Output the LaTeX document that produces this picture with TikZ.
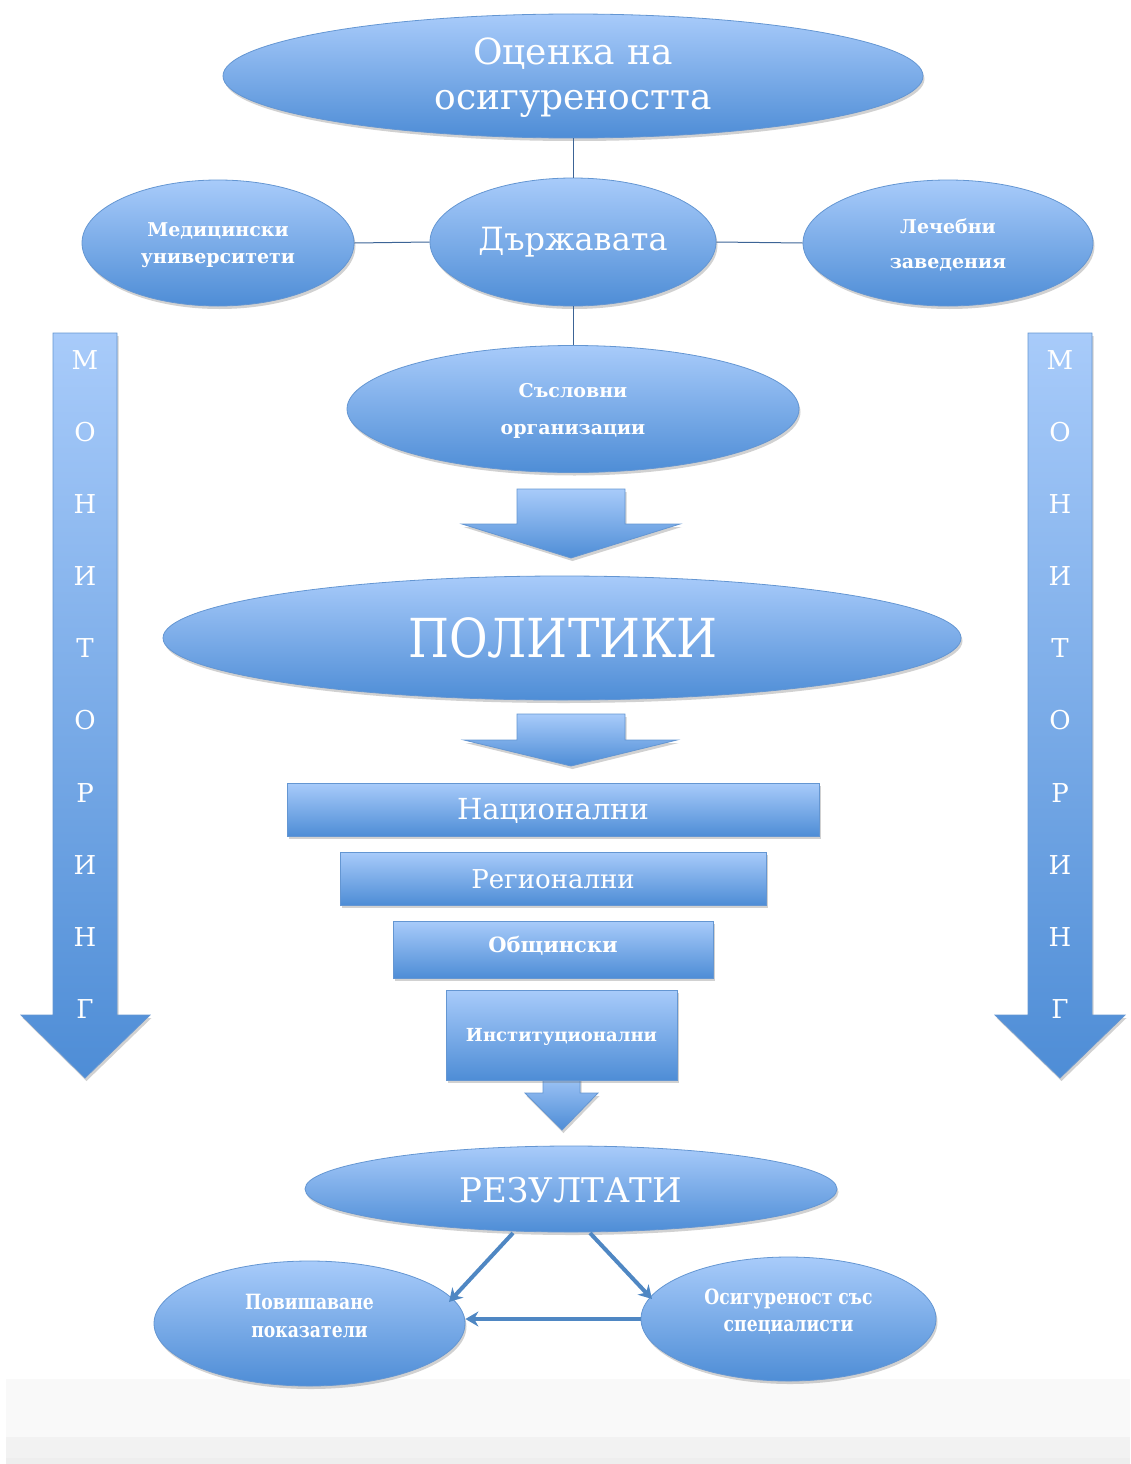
\documentclass[tikz,border=0pt]{standalone}
\usepackage{fontspec}
\setmainfont{DejaVu Serif}
\usetikzlibrary{shapes.geometric,shadows,arrows.meta}
\definecolor{lite}{RGB}{168,203,250}
\definecolor{dark}{RGB}{78,141,214}
\definecolor{edge}{RGB}{100,150,210}
\definecolor{conn}{RGB}{60,100,150}
\definecolor{thick}{RGB}{79,135,195}
\tikzset{
  fillgrad/.style={top color=lite, bottom color=dark, draw=edge, line width=0.8pt,
    drop shadow={shadow xshift=1.5pt, shadow yshift=-3pt, opacity=0.3, fill=black!60}},
  ell/.style={ellipse, fillgrad, inner sep=0pt},
  box/.style={rectangle, fillgrad, inner sep=0pt},
  txt/.style={text=white, align=center, inner sep=0pt},
  conline/.style={draw=conn, line width=1pt},
  resarrow/.style={draw=thick, line width=4pt, -{Stealth[length=13pt,width=15pt]}},
}
\newcommand{\fsz}[2]{\fontsize{#1}{#2}\selectfont}
\begin{document}
\begin{tikzpicture}[x=1pt,y=-1pt]
\useasboundingbox (0,0) rectangle (1130,1464);
% bottom band
\fill[black!2.5] (6,1379) rectangle (1130,1437);
\fill[black!5] (6,1437) rectangle (1130,1458);
\fill[black!6.5] (6,1458) rectangle (1130,1464);

% monitoring arrows
\path[fillgrad] (53,333) -- (117,333) -- (117,1015) -- (150,1015) -- (85,1078) -- (21,1015) -- (53,1015) -- cycle;
\path[fillgrad] (1028,333) -- (1092,333) -- (1092,1015) -- (1125,1015) -- (1060,1078) -- (995,1015) -- (1028,1015) -- cycle;
\foreach \ch [count=\i from 0] in {М,О,Н,И,Т,О,Р,И,Н,Г}{
  \node[txt, font=\fsz{26}{30}] (ml\i) at (85,{360+72.1*\i}) {\ch};
  \node[txt, font=\fsz{26}{30}] (mr\i) at (1060,{360+72.1*\i}) {\ch};
}

% top ellipse
\node[ell, minimum width=700pt, minimum height=124pt] (top) at (573,76) {};
\node[txt, font=\fsz{36}{45}, text width=600pt] (toptxt) at (573,78) {Оценка на\\осигуреността};

\node[ell, minimum width=286pt, minimum height=128pt] (state) at (573,242) {};
\node[txt, font=\fsz{32}{36}] at (state) {Държавата};

\node[ell, minimum width=272pt, minimum height=126pt] (med) at (218,243) {};
\node[txt, font=\bfseries\fsz{19}{27}] at (218,245) {Медицински\\университети};

\node[ell, minimum width=290pt, minimum height=126pt] (lech) at (948,243) {};
\node[txt, font=\bfseries\fsz{19}{35}] at (948,245) {Лечебни\\заведения};

\node[ell, minimum width=452pt, minimum height=127pt] (sas) at (573,409) {};
\node[txt, font=\bfseries\fsz{19}{37}] at (573,411) {Съсловни\\организации};

\draw[conline] (top.south) -- (state.north);
\draw[conline] (med.east) -- (state.west);
\draw[conline] (state.east) -- (lech.west);
\draw[conline] (state.south) -- (sas.north);

% arrow 1
\path[fillgrad] (517,489) -- (625,489) -- (625,524) -- (680,524) -- (571,558) -- (462,524) -- (517,524) -- cycle;

\node[ell, minimum width=798pt, minimum height=124pt] (pol) at (562,638) {};
\node[txt, font=\fsz{48}{50}] at (563,638) {\scalebox{0.98}[1.12]{ПОЛИТИКИ}};

% arrow 2
\path[fillgrad] (517,714) -- (625,714) -- (625,740) -- (677,740) -- (571,766) -- (464,740) -- (517,740) -- cycle;

\node[box, minimum width=532pt, minimum height=53pt] (nat) at (553,809.5) {};
\node[txt, font=\fsz{29}{32}] at (553,811) {Национални};
\node[box, minimum width=426pt, minimum height=53pt] (reg) at (553,878.5) {};
\node[txt, font=\fsz{26}{30}] at (553,879) {Регионални};
\node[box, minimum width=320pt, minimum height=57pt] (obs) at (553,949.5) {};
\node[txt, font=\bfseries\fsz{21}{24}] at (553,946) {Общински};

% small arrow
\path[fillgrad] (543,1070) -- (580,1070) -- (580,1093) -- (598,1093) -- (562,1130) -- (525,1093) -- (543,1093) -- cycle;
\node[box, minimum width=231pt, minimum height=90pt] (inst) at (561.5,1035) {};
\node[txt, font=\bfseries\fsz{18}{22}] at (561.5,1037) {Институционални};

\node[ell, minimum width=532pt, minimum height=86pt] (res) at (571,1189) {};
\node[txt, font=\fsz{34}{36}] at (571,1190) {РЕЗУЛТАТИ};

\node[ell, minimum width=311pt, minimum height=125pt] (pov) at (309.5,1323.5) {};
\node[txt, font=\bfseries\fsz{21}{28}] at (309.5,1316) {\scalebox{0.82}[1]{Повишаване}\\\scalebox{0.82}[1]{показатели}};

\node[ell, minimum width=295pt, minimum height=124pt] (osi) at (788.5,1319) {};
\node[txt, font=\bfseries\fsz{21}{27}] at (788.5,1312) {\scalebox{0.82}[1]{Осигуреност със}\\\scalebox{0.82}[1]{специалисти}};

\coordinate (r1) at (513,1233);
\coordinate (r2) at (590,1233);
\coordinate (p1) at (449,1302);
\coordinate (o1) at (652,1299);
\draw[resarrow] (r1) -- (p1);
\draw[resarrow] (r2) -- (o1);
\draw[resarrow] (osi.west) -- (osi.west -| pov.east);
\end{tikzpicture}
\end{document}
